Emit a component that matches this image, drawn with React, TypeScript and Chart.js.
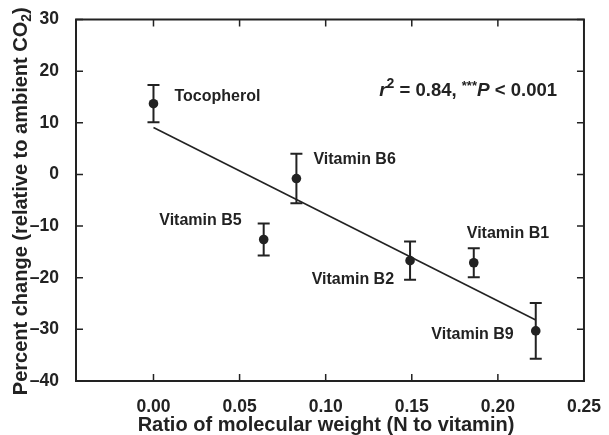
import React, { useEffect, useRef } from 'react';
import { Chart, registerables } from 'chart.js';
Chart.register(...registerables);

// ---- data ----
const names = ['Tocopherol', 'Vitamin B5', 'Vitamin B6', 'Vitamin B2', 'Vitamin B1', 'Vitamin B9'];
const ratio = [0.0, 0.064, 0.083, 0.149, 0.186, 0.222];
const change = [13.7, -12.6, -0.8, -16.7, -17.1, -30.3];
const errs = [3.6, 3.1, 4.8, 3.7, 2.8, 5.4];
const fitX = [0.0, 0.222];
const fitY = [9.1, -28.2];
const xTicks = [0.0, 0.05, 0.1, 0.15, 0.2, 0.25];
const yTicks = [30, 20, 10, 0, -10, -20, -30, -40];
const yTitle = 'Percent change (relative to ambient CO';
const xTitle = 'Ratio of molecular weight (N to vitamin)';

// ---- styles (pixel offsets of point labels) ----
const labelOffsets: [number, number, CanvasTextAlign][] = [
  [21, -7, 'left'],
  [-22, -19, 'right'],
  [17, -19, 'left'],
  [-16, 19, 'right'],
  [-7, -29, 'left'],
  [-22, 4, 'right'],
];

const INK = '#222222';
const FAM = '"Liberation Sans", Arial, sans-serif';

const fmtY = (v: number) => (v < 0 ? '\u2013' + Math.abs(v) : String(v));
const fmtX = (v: number) => Math.abs(v).toFixed(2);

const deco = {
  id: 'deco',
  beforeDatasetsDraw(chart: any) {
    const { ctx } = chart;
    const xs = chart.scales.x, ys = chart.scales.y;
    ctx.save();
    ctx.strokeStyle = INK;
    ctx.lineWidth = 2;
    for (let i = 0; i < ratio.length; i++) {
      const px = xs.getPixelForValue(ratio[i]);
      const t = ys.getPixelForValue(change[i] + errs[i]);
      const b = ys.getPixelForValue(change[i] - errs[i]);
      ctx.beginPath();
      ctx.moveTo(px, t); ctx.lineTo(px, b);
      ctx.moveTo(px - 6, t); ctx.lineTo(px + 6, t);
      ctx.moveTo(px - 6, b); ctx.lineTo(px + 6, b);
      ctx.stroke();
    }
    ctx.restore();
  },
  afterDraw(chart: any) {
    const { ctx, chartArea: a } = chart;
    const xs = chart.scales.x, ys = chart.scales.y;
    ctx.save();
    ctx.strokeStyle = INK;
    ctx.fillStyle = INK;
    // frame
    ctx.lineWidth = 2;
    ctx.strokeRect(a.left, a.top, a.right - a.left, a.bottom - a.top);
    // inward ticks
    ctx.lineWidth = 1.5;
    ctx.beginPath();
    xTicks.forEach((v) => {
      const p = xs.getPixelForValue(v);
      ctx.moveTo(p, a.bottom); ctx.lineTo(p, a.bottom - 7);
      ctx.moveTo(p, a.top); ctx.lineTo(p, a.top + 7);
    });
    yTicks.forEach((v) => {
      const p = ys.getPixelForValue(v);
      ctx.moveTo(a.left, p); ctx.lineTo(a.left + 7, p);
      ctx.moveTo(a.right, p); ctx.lineTo(a.right - 7, p);
    });
    ctx.stroke();

    // point labels
    ctx.font = `bold 16px ${FAM}`;
    ctx.textBaseline = 'middle';
    for (let i = 0; i < names.length; i++) {
      const px = xs.getPixelForValue(ratio[i]);
      const py = ys.getPixelForValue(change[i]);
      const [dx, dy, al] = labelOffsets[i];
      ctx.textAlign = al;
      ctx.fillText(names[i], px + dx, py + dy);
    }

    // stats text
    const parts: [string, string, number][] = [
      ['r', `italic bold 19px ${FAM}`, 0],
      ['2', `bold 14px ${FAM}`, -7],
      [' = 0.84, ', `bold 18.5px ${FAM}`, 0],
      ['***', `bold 13px ${FAM}`, -5],
      ['P', `italic bold 19px ${FAM}`, 0],
      [' < 0.001', `bold 18.5px ${FAM}`, 0],
    ];
    let total = 0;
    parts.forEach(([t, f]) => { ctx.font = f; total += ctx.measureText(t).width; });
    let sx = 557 - total;
    const sy = 91;
    ctx.textAlign = 'left';
    parts.forEach(([t, f, off]) => {
      ctx.font = f;
      ctx.fillText(t, sx, sy + off);
      sx += ctx.measureText(t).width;
    });

    // x title
    ctx.font = `bold 20px ${FAM}`;
    ctx.textAlign = 'center';
    ctx.fillText(xTitle, (a.left + a.right) / 2 - 4, 425);

    // y title
    ctx.translate(21, (a.top + a.bottom) / 2 + 1);
    ctx.rotate(-Math.PI / 2);
    ctx.font = `bold 20px ${FAM}`;
    const w1 = ctx.measureText(yTitle).width;
    ctx.font = `bold 14px ${FAM}`;
    const w2 = ctx.measureText('2').width;
    ctx.font = `bold 20px ${FAM}`;
    const w3 = ctx.measureText(')').width;
    let tx = -(w1 + w2 + w3) / 2;
    ctx.textAlign = 'left';
    ctx.fillText(yTitle, tx, 0);
    tx += w1;
    ctx.font = `bold 14px ${FAM}`;
    ctx.fillText('2', tx, 6);
    tx += w2;
    ctx.font = `bold 20px ${FAM}`;
    ctx.fillText(')', tx, 0);
    ctx.restore();
  },
};

export default function App() {
  const ref = useRef<HTMLCanvasElement>(null);
  useEffect(() => {
    if (!ref.current) return;
    const chart = new Chart(ref.current, {
      type: 'scatter',
      data: {
        datasets: [
          {
            type: 'line',
            data: fitX.map((x, i) => ({ x, y: fitY[i] })),
            borderColor: INK,
            borderWidth: 1.6,
            pointRadius: 0,
            showLine: true,
            fill: false,
          } as any,
          {
            data: ratio.map((x, i) => ({ x, y: change[i] })),
            backgroundColor: INK,
            borderWidth: 0,
            pointRadius: 4.8,
          },
        ],
      },
      plugins: [deco],
      options: {
        animation: false,
        responsive: false,
        layout: { padding: { top: 19, right: 24, left: 0, bottom: 0 } },
        plugins: { legend: { display: false }, tooltip: { enabled: false } },
        scales: {
          x: {
            type: 'linear',
            min: -0.045,
            max: 0.25,
            grid: { display: false },
            border: { display: false },
            ticks: {
              stepSize: 0.05,
              includeBounds: false,
              padding: 8,
              color: INK,
              font: { family: FAM, size: 17.5, weight: 'bold' },
              callback: (v: any) => fmtX(Number(v)),
            },
            afterFit: (s: any) => { s.height = 54; },
          },
          y: {
            type: 'linear',
            min: -40,
            max: 30,
            grid: { display: false },
            border: { display: false },
            ticks: {
              stepSize: 10,
              padding: 9,
              color: INK,
              font: { family: FAM, size: 17.5, weight: 'bold' },
              callback: (v: any) => fmtY(Number(v)),
            },
            afterFit: (s: any) => { s.width = 76; },
          },
        },
      } as any,
    });
    return () => chart.destroy();
  }, []);
  return (
    <div style={{ position: 'absolute', left: 0, top: 0, width: 609, height: 435 }}>
      <canvas ref={ref} width={609} height={435} />
    </div>
  );
}
